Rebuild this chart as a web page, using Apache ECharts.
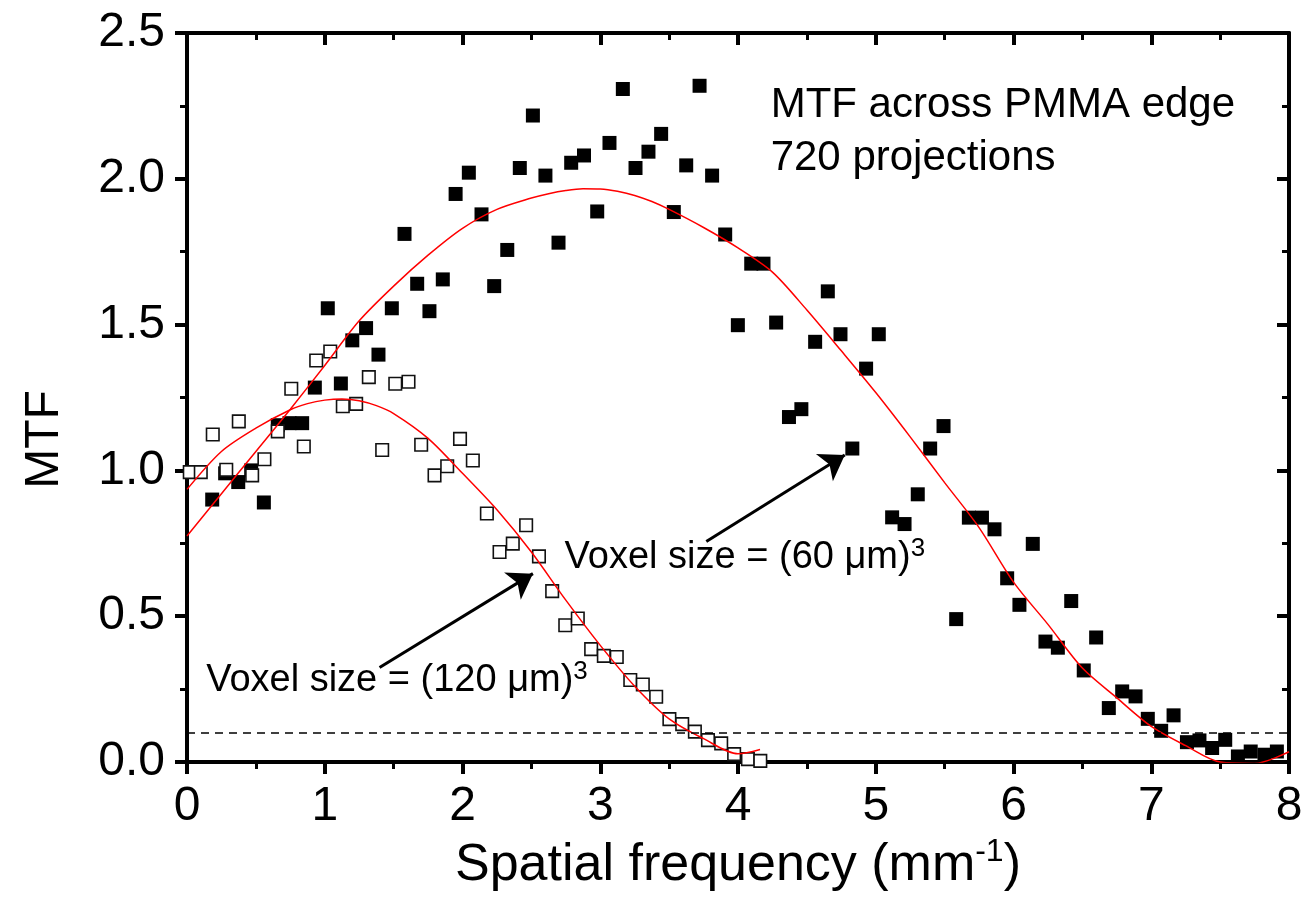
<!DOCTYPE html>
<html>
<head>
<meta charset="utf-8">
<title>MTF across PMMA edge</title>
<script src="https://cdn.jsdelivr.net/npm/echarts@6/dist/echarts.min.js"></script>
<style>
  html, body { margin: 0; padding: 0; background: #ffffff; }
  #chart { width: 1307px; height: 910px; }
</style>
</head>
<body>
<div id="chart"></div>
<script>
const FONT = '"Liberation Sans", Arial, Helvetica, sans-serif';

// Measured MTF, voxel size (60 µm)^3 — filled squares
const freq60 = [
  0.183, 0.277, 0.372, 0.466, 0.558, 0.659, 0.744, 0.836, 0.928, 1.022,
  1.117, 1.200, 1.300, 1.390, 1.487, 1.579, 1.671, 1.760, 1.857, 1.950,
  2.046, 2.138, 2.230, 2.325, 2.416, 2.511, 2.602, 2.697, 2.789, 2.882,
  2.978, 3.067, 3.164, 3.256, 3.350, 3.442, 3.534, 3.624, 3.721, 3.812,
  3.907, 3.999, 4.096, 4.185, 4.277, 4.370, 4.460, 4.560, 4.652, 4.744,
  4.830, 4.930, 5.022, 5.119, 5.209, 5.305, 5.395, 5.492, 5.584, 5.676,
  5.771, 5.862, 5.954, 6.043, 6.140, 6.232, 6.322, 6.419, 6.510, 6.600,
  6.692, 6.789, 6.886, 6.975, 7.072, 7.162, 7.259, 7.350, 7.442, 7.537,
  7.629, 7.722, 7.822, 7.912
];
const mtf60 = [
  0.900, 0.990, 0.960, 1.000, 0.890, 1.155, 1.162, 1.162, 1.284, 1.556,
  1.298, 1.446, 1.488, 1.397, 1.556, 1.811, 1.640, 1.546, 1.655, 1.948,
  2.021, 1.878, 1.632, 1.756, 2.037, 2.217, 2.011, 1.781, 2.055, 2.080,
  1.888, 2.123, 2.308, 2.037, 2.093, 2.154, 1.886, 2.046, 2.319, 2.011,
  1.809, 1.498, 1.709, 1.709, 1.507, 1.183, 1.210, 1.441, 1.614, 1.467,
  1.075, 1.349, 1.467, 0.839, 0.816, 0.918, 1.075, 1.152, 0.490, 0.838,
  0.838, 0.798, 0.630, 0.539, 0.748, 0.413, 0.392, 0.552, 0.314, 0.427,
  0.185, 0.242, 0.225, 0.148, 0.107, 0.160, 0.068, 0.074, 0.048, 0.076,
  0.019, 0.036, 0.025, 0.036
];

// Measured MTF, voxel size (120 µm)^3 — open squares
const freq120 = [
  0.020, 0.100, 0.187, 0.285, 0.376, 0.473, 0.562, 0.659, 0.757, 0.848,
  0.938, 1.040, 1.131, 1.228, 1.320, 1.417, 1.512, 1.608, 1.700, 1.797,
  1.889, 1.982, 2.075, 2.177, 2.269, 2.365, 2.462, 2.555, 2.651, 2.746,
  2.837, 2.934, 3.026, 3.120, 3.218, 3.309, 3.406, 3.502, 3.595, 3.687,
  3.782, 3.878, 3.972, 4.072, 4.162
];
const mtf120 = [
  0.994, 0.994, 1.123, 1.002, 1.168, 0.983, 1.038, 1.134, 1.280, 1.082,
  1.377, 1.408, 1.220, 1.228, 1.320, 1.070, 1.297, 1.304, 1.088, 0.983,
  1.014, 1.108, 1.034, 0.852, 0.720, 0.749, 0.812, 0.705, 0.586, 0.469,
  0.492, 0.387, 0.364, 0.360, 0.281, 0.266, 0.224, 0.147, 0.130, 0.104,
  0.075, 0.064, 0.027, 0.010, 0.004
];

// Fitted curves (red)
const fit60X = [
  0, 0.25, 0.5, 0.75, 1, 1.25, 1.5, 1.75, 2, 2.25, 2.5, 2.625, 2.75, 2.875, 3, 3.125,
  3.25, 3.375, 3.5, 3.75, 4, 4.25, 4.5, 4.75, 5, 5.25, 5.5, 5.75, 6, 6.25, 6.5, 6.75,
  7, 7.25, 7.5, 7.75, 8
];
const fit60Y = [
  0.775, 0.920, 1.065, 1.210, 1.360, 1.513, 1.632, 1.738, 1.830, 1.895, 1.934, 1.949,
  1.960, 1.966, 1.965, 1.957, 1.943, 1.922, 1.895, 1.833, 1.763, 1.680, 1.550, 1.410,
  1.267, 1.115, 0.958, 0.804, 0.617, 0.472, 0.322, 0.220, 0.122, 0.056, 0.000, -0.005,
  0.035
];
const fit120X = [
  0, 0.25, 0.5, 0.75, 0.875, 1, 1.125, 1.25, 1.375, 1.5, 1.75, 2, 2.25, 2.5, 2.75,
  3, 3.25, 3.5, 3.75, 4, 4.16
];
const fit120Y = [
  0.935, 1.065, 1.145, 1.208, 1.229, 1.241, 1.245, 1.239, 1.222, 1.195, 1.110, 0.990,
  0.865, 0.720, 0.555, 0.400, 0.260, 0.148, 0.080, 0.028, 0.043
];

// Reference level and annotation anchors (data coordinates)
const thresholdLevel = 0.1;
const arrow120 = [[1.398, 0.324], [2.511, 0.646]];
const arrow60 = [[3.770, 0.756], [4.775, 1.053]];
const titleAnchor = [4.237, 2.344];
const label60Anchor = [2.741, 0.700];
const label120Anchor = [0.139, 0.279];

const zip = (xs, ys) => xs.map((x, i) => [x, ys[i]]);

const axisLineStyle = { color: '#000', width: 4 };
const tickStyle = { color: '#000', width: 4 };
const minorStyle = { color: '#000', width: 3 };

function baseAxis(extra) {
  return Object.assign({
    type: 'value',
    axisLine: { show: true, onZero: false, lineStyle: axisLineStyle },
    axisTick: { show: true, length: 12, lineStyle: tickStyle },
    minorTick: { show: true, splitNumber: 2, length: 7, lineStyle: minorStyle },
    splitLine: { show: false },
    minorSplitLine: { show: false }
  }, extra);
}

function textLabel(formatter, rich, align, vAlign) {
  return {
    show: true, position: [0, 0], align: align, verticalAlign: vAlign,
    color: '#000', fontFamily: FONT, textBorderWidth: 0,
    formatter: formatter, rich: rich
  };
}

const supRich = {
  a: { fontSize: 38, lineHeight: 44, fontFamily: FONT, color: '#000' },
  s: { fontSize: 26, lineHeight: 24, verticalAlign: 'top', fontFamily: FONT, color: '#000' }
};

const chart = echarts.init(document.getElementById('chart'), null, { renderer: 'canvas' });

chart.setOption({
  backgroundColor: '#ffffff',
  animation: false,
  textStyle: { fontFamily: FONT, color: '#000' },
  grid: { left: 187, right: 18, top: 33, bottom: 148, containLabel: false, outerBoundsMode: 'none' },
  xAxis: [
    baseAxis({
      min: 0, max: 8, interval: 1, position: 'bottom',
      axisLabel: { fontSize: 48, margin: 21, color: '#000', fontFamily: FONT },
      name: '{a|Spatial frequency (mm}{s|-1}{a|)}',
      nameLocation: 'middle',
      nameGap: 58,
      nameTextStyle: {
        fontFamily: FONT, color: '#000',
        rich: {
          a: { fontSize: 52, lineHeight: 60, fontFamily: FONT, color: '#000' },
          s: { fontSize: 32, lineHeight: 30, verticalAlign: 'top', fontFamily: FONT, color: '#000' }
        }
      }
    }),
    baseAxis({
      min: 0, max: 8, interval: 1, position: 'top',
      axisTick: { show: true, inside: true, length: 12, lineStyle: tickStyle },
      axisLabel: { show: false }
    })
  ],
  yAxis: [
    baseAxis({
      min: 0, max: 2.5, interval: 0.5, position: 'left',
      axisLabel: {
        fontSize: 48, margin: 22, color: '#000', fontFamily: FONT,
        formatter: v => v.toFixed(1)
      },
      name: 'MTF',
      nameLocation: 'middle',
      nameRotate: 90,
      nameGap: 118,
      nameTextStyle: { fontSize: 48, fontFamily: FONT, color: '#000', padding: [0, 84, 0, 0] }
    }),
    baseAxis({
      min: 0, max: 2.5, interval: 0.5, position: 'right',
      axisTick: { show: true, inside: true, length: 12, lineStyle: tickStyle },
      axisLabel: { show: false }
    })
  ],
  series: [
    {
      name: '(60 µm)^3',
      type: 'scatter',
      data: zip(freq60, mtf60),
      symbol: 'rect',
      symbolSize: 14,
      itemStyle: { color: '#000', opacity: 1 },
      z: 2
    },
    {
      name: '(120 µm)^3',
      type: 'scatter',
      data: zip(freq120, mtf120),
      symbol: 'rect',
      symbolSize: 12.5,
      itemStyle: { color: '#fff', borderColor: '#111', borderWidth: 1.6, opacity: 1 },
      z: 3
    },
    {
      name: 'fit 60',
      type: 'line',
      data: zip(fit60X, fit60Y),
      smooth: 0.3,
      showSymbol: false,
      symbol: 'none',
      lineStyle: { color: '#ff0000', width: 1.5 },
      z: 4
    },
    {
      name: 'fit 120',
      type: 'line',
      data: zip(fit120X, fit120Y),
      smooth: 0.3,
      showSymbol: false,
      symbol: 'none',
      lineStyle: { color: '#ff0000', width: 1.5 },
      z: 4,
      markLine: {
        silent: true,
        symbol: ['none', 'none'],
        label: { show: false },
        lineStyle: { color: '#000', width: 1.5, type: [8, 6] },
        data: [{ yAxis: thresholdLevel }]
      }
    },
    {
      name: 'annotations',
      type: 'scatter',
      symbolSize: 0,
      silent: true,
      itemStyle: { opacity: 1, color: '#000' },
      z: 6,
      data: [
        {
          value: titleAnchor,
          label: textLabel('{t|MTF across PMMA edge}\n{t|720 projections}',
            { t: { fontSize: 42, lineHeight: 53, fontFamily: FONT, color: '#000' } }, 'left', 'top')
        },
        {
          value: label60Anchor,
          label: textLabel('{a|Voxel size = (60 \u03bcm)}{s|3}', supRich, 'left', 'middle')
        },
        {
          value: label120Anchor,
          label: textLabel('{a|Voxel size = (120 \u03bcm)}{s|3}', supRich, 'left', 'middle')
        }
      ],
      markLine: {
        silent: true,
        symbol: ['none', 'arrow'],
        symbolSize: 24,
        label: { show: false },
        lineStyle: { color: '#000', width: 3, type: 'solid', opacity: 1 },
        data: [
          [{ coord: arrow120[0] }, { coord: arrow120[1] }],
          [{ coord: arrow60[0] }, { coord: arrow60[1] }]
        ]
      }
    }
  ]
});
</script>
</body>
</html>
